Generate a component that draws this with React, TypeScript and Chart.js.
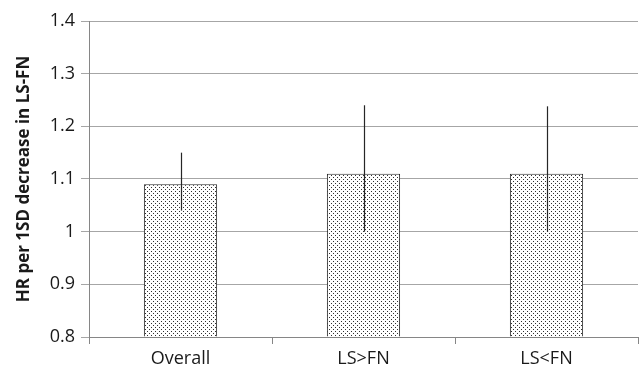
import React, { useEffect, useRef } from "react";
import { Chart, registerables } from "chart.js";

Chart.register(...registerables);

const categories = ["Overall", "LS>FN", "LS<FN"];
const hrValues = [1.09, 1.11, 1.11];
const ciLower = [1.04, 1.0, 1.0];
const ciUpper = [1.15, 1.24, 1.238];
const yTicks = [0.8, 0.9, 1.0, 1.1, 1.2, 1.3, 1.4];

const FONT = "'Open Sans', 'Liberation Sans', sans-serif";

function makePattern(): CanvasPattern | string {
  const c = document.createElement("canvas");
  c.width = 4;
  c.height = 4;
  const g = c.getContext("2d");
  if (!g) return "#ddd";
  g.fillStyle = "#ffffff";
  g.fillRect(0, 0, 4, 4);
  g.fillStyle = "#303030";
  g.fillRect(1, 1, 1, 1);
  g.fillRect(3, 3, 1, 1);
  const p = g.createPattern(c, "repeat");
  return p || "#ddd";
}

const errorBarPlugin = {
  id: "errorBars",
  afterDatasetsDraw(chart: any) {
    const { ctx } = chart;
    const meta = chart.getDatasetMeta(0);
    const yScale = chart.scales.y;
    ctx.save();
    ctx.strokeStyle = "#262626";
    ctx.lineWidth = 1.2;
    meta.data.forEach((bar: any, i: number) => {
      const x = Math.round(bar.x) + 0.5;
      const y1 = yScale.getPixelForValue(ciLower[i]);
      const y2 = yScale.getPixelForValue(ciUpper[i]);
      ctx.beginPath();
      ctx.moveTo(x, y1);
      ctx.lineTo(x, y2);
      ctx.stroke();
    });
    ctx.restore();
  },
};

export default function App() {
  const ref = useRef<HTMLCanvasElement | null>(null);
  useEffect(() => {
    if (!ref.current) return;
    const pattern = makePattern();
    const chart = new Chart(ref.current, {
      type: "bar",
      data: {
        labels: categories,
        datasets: [
          {
            data: hrValues,
            base: 0.8,
            backgroundColor: pattern as any,
            borderColor: "#2b2b2b",
            borderWidth: 1,
            barPercentage: 0.4,
            categoryPercentage: 1,
          } as any,
        ],
      },
      options: {
        animation: false,
        responsive: false,
        maintainAspectRatio: false,
        devicePixelRatio: 1,
        layout: { padding: { top: 21, right: 3, left: 0, bottom: 0 } },
        plugins: {
          legend: { display: false },
          tooltip: { enabled: false },
        },
        scales: {
          x: {
            grid: {
              display: true,
              drawOnChartArea: false,
              drawTicks: true,
              tickLength: 7,
              offset: true,
              color: "#868686",
            },
            border: { display: true, color: "#868686", width: 1 },
            ticks: {
              color: "#1a1a1a",
              font: { family: FONT, size: 18 },
              padding: 4,
            },
            afterFit(scale: any) {
              scale.height = 32;
            },
          },
          y: {
            min: 0.8,
            max: 1.4,
            afterBuildTicks(scale: any) {
              scale.ticks = yTicks.map((v) => ({ value: v }));
            },
            grid: {
              color: "#a6a6a6",
              lineWidth: 1,
              drawTicks: true,
              tickLength: 8,
            },
            border: { display: true, color: "#868686", width: 1 },
            ticks: {
              color: "#1a1a1a",
              font: { family: FONT, size: 18 },
              padding: 6,
              callback: (v: any) => {
                const n = Number(v);
                return Number.isInteger(n) ? String(n) : n.toFixed(1);
              },
            },
            title: {
              display: true,
              text: "HR per 1SD decrease in LS-FN",
              color: "#1a1a1a",
              font: { family: FONT, size: 17, weight: "bold" },
              padding: { top: 14, bottom: 0 },
            },
            afterFit(scale: any) {
              scale.width = 89;
            },
          },
        },
      },
      plugins: [errorBarPlugin],
    });
    return () => chart.destroy();
  }, []);
  return (
    <div style={{ position: "fixed", left: 0, top: 0, width: 641, height: 369, background: "#fff" }}>
      <canvas ref={ref} width={641} height={369} style={{ display: "block" }} />
    </div>
  );
}
